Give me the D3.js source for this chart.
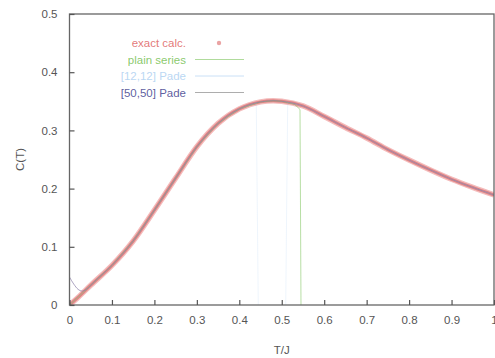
<!DOCTYPE html>
<html>
<head>
<meta charset="utf-8">
<script src="https://cdn.jsdelivr.net/npm/d3@7"></script>
<style>
  body { margin: 0; background: #fff; }
  svg text { font-family: "Liberation Sans", Arial, sans-serif; }
</style>
</head>
<body>
<div id="chart"></div>
<script>
//---------------------------------- Data --------------------
var exactT = [0, 0.02, 0.05, 0.1, 0.15, 0.2, 0.25, 0.3, 0.35, 0.4, 0.45, 0.48, 0.5, 0.55, 0.6, 0.65, 0.7, 0.75, 0.8, 0.85, 0.9, 0.95, 1.0];
var exactC = [0, 0.013, 0.034, 0.068, 0.11, 0.163, 0.218, 0.272, 0.312, 0.337, 0.349, 0.351, 0.35, 0.342, 0.324, 0.305, 0.287, 0.267, 0.249, 0.232, 0.216, 0.202, 0.189];

// plain series: follows exact, then blows up just past T = 0.54
var plainT = [0, 0.05, 0.1, 0.15, 0.2, 0.25, 0.3, 0.35, 0.4, 0.45, 0.48, 0.5, 0.53, 0.543, 0.546];
var plainC = [0, 0.034, 0.068, 0.11, 0.163, 0.218, 0.272, 0.312, 0.337, 0.349, 0.351, 0.35, 0.345, 0.336, -0.1];

// [12,12] Pade: poles near 0.445 and 0.51
var pade12T = [0, 0.05, 0.1, 0.15, 0.2, 0.25, 0.3, 0.35, 0.4, 0.44, 0.446];
var pade12C = [0, 0.034, 0.068, 0.11, 0.163, 0.218, 0.272, 0.312, 0.337, 0.347, -0.1];
var pade12bT = [0.508, 0.514, 0.55, 0.6, 0.65, 0.7, 0.75, 0.8, 0.85, 0.9, 0.95, 1.0];
var pade12bC = [-0.1, 0.348, 0.342, 0.324, 0.305, 0.287, 0.267, 0.249, 0.232, 0.216, 0.202, 0.189];

// [50,50] Pade: small wiggle at very low T
var pade50T = [0, 0.01, 0.02, 0.03, 0.045, 0.06, 0.1, 0.15, 0.2, 0.25, 0.3, 0.35, 0.4, 0.45, 0.48, 0.5, 0.55, 0.6, 0.65, 0.7, 0.75, 0.8, 0.85, 0.9, 0.95, 1.0];
var pade50C = [0.048, 0.036, 0.027, 0.024, 0.03, 0.041, 0.068, 0.11, 0.163, 0.218, 0.272, 0.312, 0.337, 0.349, 0.351, 0.35, 0.342, 0.324, 0.305, 0.287, 0.267, 0.249, 0.232, 0.216, 0.202, 0.189];

var xTicks = [0, 0.1, 0.2, 0.3, 0.4, 0.5, 0.6, 0.7, 0.8, 0.9, 1];
var yTicks = [0, 0.1, 0.2, 0.3, 0.4, 0.5];
var legendNames = ["exact calc.", "plain series", "[12,12] Pade", "[50,50] Pade"];
var legendColors = ["#e06a6a", "#7cc35a", "#a9cdf0", "#4b4b94"];

//---------------------------------- View --------------------
var width = 495, height = 358;
var margin = {left: 69.5, right: 1, top: 14, bottom: 53};

var svg = d3.select("#chart").append("svg")
    .attr("width", width)
    .attr("height", height);

var x_scale = d3.scaleLinear().domain([0, 1]).range([margin.left, width - margin.right]);
var y_scale = d3.scaleLinear().domain([0, 0.5]).range([height - margin.bottom, margin.top]);

svg.append("clipPath").attr("id", "plotclip")
  .append("rect")
    .attr("x", x_scale(0)).attr("y", y_scale(0.5))
    .attr("width", x_scale(1) - x_scale(0))
    .attr("height", y_scale(0) - y_scale(0.5));

function pts(xs, ys) { return xs.map(function(t, i) { return [t, ys[i]]; }); }

var line = d3.line()
    .x(function(d) { return x_scale(d[0]); })
    .y(function(d) { return y_scale(d[1]); })
    .curve(d3.curveMonotoneX);

var plot = svg.append("g").attr("clip-path", "url(#plotclip)");

// exact calc. - thick pink line (dense points in the original)
plot.append("path")
    .attr("d", line(pts(exactT, exactC)))
    .attr("fill", "none")
    .attr("stroke", "#f4bcbc")
    .attr("stroke-width", 5.5);
plot.append("path")
    .attr("d", line(pts(exactT, exactC)))
    .attr("fill", "none")
    .attr("stroke", "#e08484")
    .attr("stroke-width", 3);

var lin = d3.line()
    .x(function(d) { return x_scale(d[0]); })
    .y(function(d) { return y_scale(d[1]); });

plot.append("path")
    .attr("d", lin(pts(plainT, plainC)))
    .attr("fill", "none")
    .attr("stroke", legendColors[1])
    .attr("stroke-opacity", 0.55)
    .attr("stroke-width", 1);

plot.append("path")
    .attr("d", lin(pts(pade12T, pade12C)))
    .attr("fill", "none")
    .attr("stroke", legendColors[2])
    .attr("stroke-opacity", 0.2)
    .attr("stroke-width", 1);
plot.append("path")
    .attr("d", lin(pts(pade12bT, pade12bC)))
    .attr("fill", "none")
    .attr("stroke", legendColors[2])
    .attr("stroke-opacity", 0.2)
    .attr("stroke-width", 1);

plot.append("path")
    .attr("d", line(pts(pade50T, pade50C)))
    .attr("fill", "none")
    .attr("stroke", "#8a7fa8")
    .attr("stroke-opacity", 0.7)
    .attr("stroke-width", 1);

// ---------- Frame + axes ----------
svg.append("rect")
    .attr("x", x_scale(0)).attr("y", y_scale(0.5))
    .attr("width", x_scale(1) - x_scale(0))
    .attr("height", y_scale(0) - y_scale(0.5))
    .attr("fill", "none")
    .attr("stroke", "#666")
    .attr("stroke-width", 1.3);

var xAxis = svg.append("g")
    .attr("transform", "translate(0," + y_scale(0) + ")")
    .call(d3.axisBottom(x_scale).tickValues(xTicks).tickSize(-5).tickPadding(11)
      .tickFormat(function(d) { return d3.format("")(d); }));
var yAxis = svg.append("g")
    .attr("transform", "translate(" + x_scale(0) + ",0)")
    .call(d3.axisLeft(y_scale).tickValues(yTicks).tickSize(-5).tickPadding(12)
      .tickFormat(function(d) { return d3.format("")(d); }));

[xAxis, yAxis].forEach(function(ax) {
  ax.select(".domain").remove();
  ax.selectAll(".tick line").attr("stroke", "#555").attr("stroke-width", 1.2);
  ax.selectAll(".tick text").attr("fill", "#555").style("font-size", "11.5px");
});

svg.append("text")
    .attr("x", (x_scale(0) + x_scale(1)) / 2)
    .attr("y", 354)
    .attr("text-anchor", "middle")
    .attr("fill", "#555")
    .style("font-size", "11.5px")
    .text("T/J");

svg.append("text")
    .attr("transform", "translate(24," + ((y_scale(0) + y_scale(0.5)) / 2) + ") rotate(-90)")
    .attr("text-anchor", "middle")
    .attr("fill", "#555")
    .style("font-size", "11.5px")
    .text("C(T)");

// ---------- Legend ----------
var legend = svg.append("g").attr("class", "legend");
legendNames.forEach(function(name, i) {
  var ly = 43 + i * 16.5;
  legend.append("text")
      .attr("x", 186).attr("y", ly + 4)
      .attr("text-anchor", "end")
      .attr("fill", legendColors[i])
      .attr("fill-opacity", i == 2 ? 0.8 : 0.9)
      .style("font-size", "11.5px")
      .text(name);
  if (i == 0) {
    legend.append("circle")
        .attr("cx", 219).attr("cy", ly)
        .attr("r", 2.2)
        .attr("fill", "#eaa3a3");
  } else {
    legend.append("line")
        .attr("x1", 195).attr("x2", 244)
        .attr("y1", ly).attr("y2", ly)
        .attr("stroke", i == 3 ? "#777" : legendColors[i])
        .attr("stroke-opacity", 0.6)
        .attr("stroke-width", 1);
  }
});
</script>
</body>
</html>
